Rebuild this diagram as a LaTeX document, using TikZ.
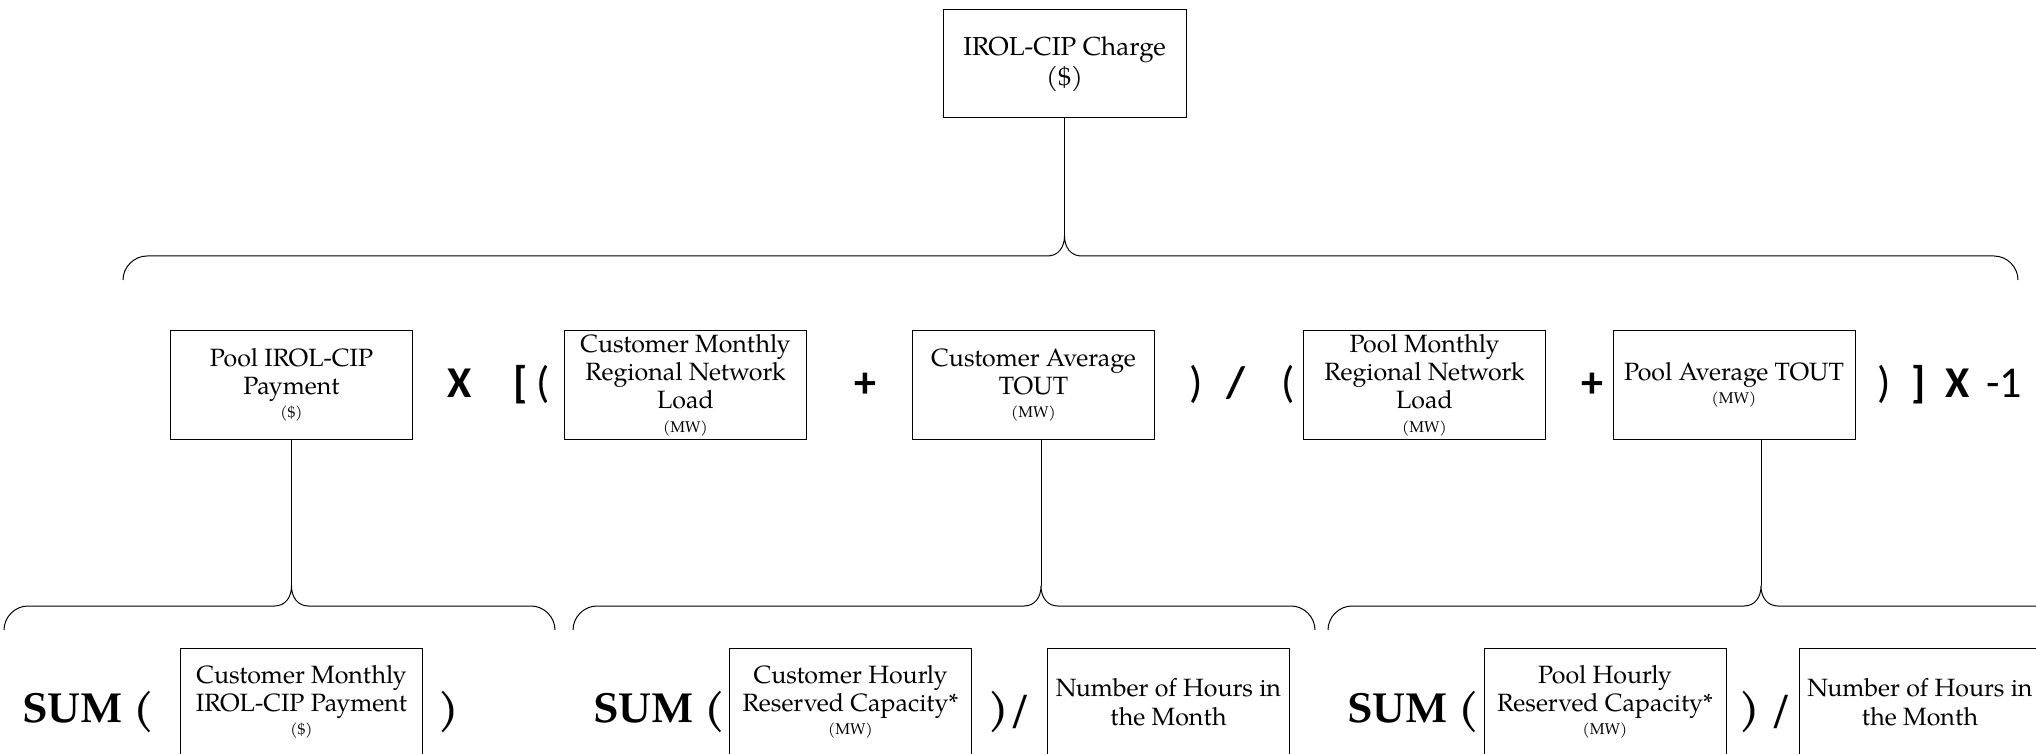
\documentclass[tikz,border=0pt]{standalone}
\usepackage{fontspec}
\setmainfont{texgyrepagella}[Extension=.otf, UprightFont=*-regular, BoldFont=*-bold, ItalicFont=*-italic, BoldItalicFont=*-bolditalic]
\newfontfamily\opfont{Carlito}
\newcommand\unitf[1]{{\fontsize{7.8}{9}\selectfont #1}}
\newcommand\hbr[4]{% left x, right x, tip x, y
  \draw[brace] (#1,#4+24) .. controls (#1,#4+11) and (#1+11,#4) .. (#1+24,#4)
    -- (#3-17,#4) .. controls (#3-6,#4) and (#3,#4-9) .. (#3,#4-20)
    .. controls (#3,#4-9) and (#3+6,#4) .. (#3+17,#4)
    -- (#2-24,#4) .. controls (#2-11,#4) and (#2,#4+11) .. (#2,#4+24);}
\tikzset{
  box/.style={draw, line width=0.5pt, minimum width=121pt, minimum height=54pt,
    inner sep=1pt, align=center, font=\fontsize{12.5}{14.2}\selectfont},
  topbox/.style={box, font=\fontsize{13}{15}\selectfont},
  opb/.style={font=\opfont\bfseries\fontsize{22}{24}\selectfont, inner sep=0pt, anchor=base},
  opr/.style={font=\opfont\fontsize{22}{24}\selectfont, inner sep=0pt, anchor=base},
  sumop/.style={font=\bfseries\fontsize{21}{24}\selectfont, inner sep=0pt, anchor=base},
  brace/.style={line width=0.5pt},
  conn/.style={line width=0.5pt}
}
\begin{document}
\begin{tikzpicture}[x=0.5pt,y=-0.5pt]
\useasboundingbox (0,0) rectangle (2036,754);
\clip (0,0) rectangle (2036,754);

% top
\node[topbox, minimum width=121.5pt] (top) at (1064.5,64) {IROL-CIP Charge\\(\$)};

% row 2 boxes
\node[box] (pool) at (291.5,385) {Pool IROL-CIP\\Payment\\[-2.6pt]\unitf{(\$)}};
\node[box] (cmrnl) at (685.5,385) {Customer Monthly\\Regional Network\\Load\\[-2.6pt]\unitf{(MW)}};
\node[box] (cat) at (1033.5,385) {Customer Average\\TOUT\\[-2.6pt]\unitf{(MW)}};
\node[box] (pmrnl) at (1424.5,385) {Pool Monthly\\Regional Network\\Load\\[-2.6pt]\unitf{(MW)}};
\node[box] (pat) at (1734,385) {Pool Average TOUT\\[-2.6pt]\unitf{(MW)}};

% row 2 operators
\node[opb] (o1) at (460,398) {X};
\node[opb] (o2) at (521,398) {[};
\node[opr] (o3) at (543,398) {(};
\node[opb] (o4) at (865,398) {+};
\node[opr] (o5) at (1196,398) {)};
\node[opb] (o6) at (1236,398) {/};
\node[opr] (o7) at (1288,398) {(};
\node[opb] (o8) at (1592,398) {+};
\node[opr] (o9) at (1884,398) {)};
\node[opb] (o10) at (1919,398) {]};
\node[opb] (o11) at (1958,398) {X};
\node[opr] (o12) at (2004,398) {-1};

% bottom boxes
\node[box] (cmip) at (301.5,702) {Customer Monthly\\IROL-CIP Payment\\[-2.6pt]\unitf{(\$)}};
\node[box] (chrc) at (850.5,702) {Customer Hourly\\Reserved Capacity*\\[-2.6pt]\unitf{(MW)}};
\node[box] (nh1) at (1168.5,702) {Number of Hours in\\the Month};
\node[box] (phrc) at (1605,702) {Pool Hourly\\Reserved Capacity*\\[-2.6pt]\unitf{(MW)}};
\node[box] (nh2) at (1920,702) {Number of Hours in\\the Month};

% bottom operators
\node[sumop] (s1) at (88,722) {SUM (};
\node[sumop] (s2) at (449,722) {)};
\node[sumop] (s3) at (659,722) {SUM (};
\node[sumop] (s4) at (1010,722) {)/};
\node[sumop] (s5) at (1413,722) {SUM (};
\node[sumop] (s6) at (1766,722) {) /};

% braces
\hbr{123}{2018}{1064.5}{256}
\hbr{4}{555}{291.5}{606}
\hbr{573}{1315}{1041}{606}
\hbr{1328}{2193}{1761}{606}

% connectors
\coordinate (t0) at (1064.5,236);
\coordinate (t1) at (291.5,586);
\coordinate (t2) at (1041,586);
\coordinate (t3) at (1761,586);
\draw[conn] (top.south) -- (t0);
\draw[conn] (pool.south) -- (t1);
\draw[conn] (t2 |- cat.south) -- (t2);
\draw[conn] (t3 |- pat.south) -- (t3);
\end{tikzpicture}
\end{document}
